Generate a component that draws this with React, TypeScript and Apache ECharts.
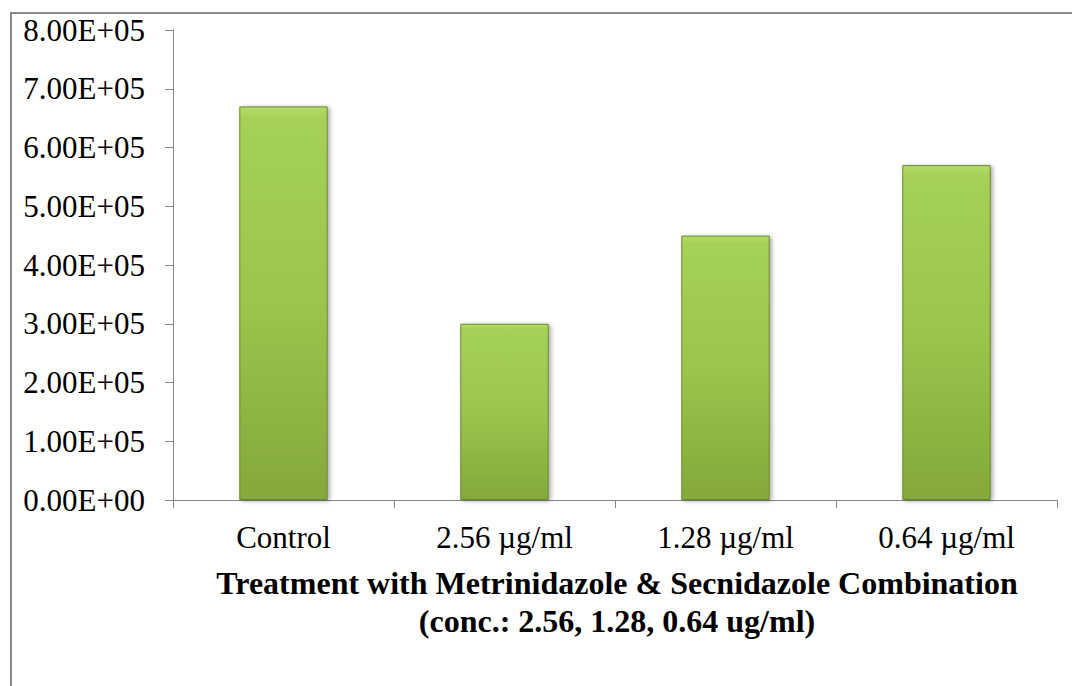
import React, { useEffect, useRef } from "react";
import * as echarts from "echarts";

const categories = ["Control", "2.56 µg/ml", "1.28 µg/ml", "0.64 µg/ml"];
const counts = [670000, 300000, 450000, 570000];
const yMin = 0;
const yMax = 800000;
const yStep = 100000;
const titleLines = [
  "Treatment with Metrinidazole & Secnidazole Combination",
  "(conc.: 2.56, 1.28, 0.64 ug/ml)",
];

const FONT = "'Liberation Serif', 'Times New Roman', serif";

function sci(v: number): string {
  const [m, e] = v.toExponential(2).split("e");
  const n = parseInt(e, 10);
  const sign = n < 0 ? "-" : "+";
  const digits = String(Math.abs(n)).padStart(2, "0");
  return `${m}E${sign}${digits}`;
}

export default function App() {
  const ref = useRef<HTMLDivElement>(null);

  useEffect(() => {
    if (!ref.current) return;
    const chart = echarts.init(ref.current, null, { renderer: "svg" });
    chart.setOption({
      animation: false,
      backgroundColor: "#ffffff",
      grid: { left: 173, top: 30, right: 15, bottom: 186, containLabel: false },
      xAxis: {
        type: "category",
        data: categories,
        axisLine: { lineStyle: { color: "#868686", width: 1 } },
        axisTick: { show: true, length: 8, lineStyle: { color: "#868686" } },
        axisLabel: {
          color: "#000",
          fontFamily: FONT,
          fontSize: 31,
          margin: 22,
        },
      },
      yAxis: {
        type: "value",
        min: yMin,
        max: yMax,
        interval: yStep,
        splitLine: { show: false },
        axisLine: { show: true, lineStyle: { color: "#868686", width: 1 } },
        axisTick: { show: true, length: 8, lineStyle: { color: "#868686" } },
        axisLabel: {
          color: "#000",
          fontFamily: FONT,
          fontSize: 31,
          margin: 28,
          formatter: (v: number) => sci(v),
        },
      },
      series: [
        {
          type: "bar",
          data: counts,
          barCategoryGap: "60%",
          itemStyle: {
            color: new echarts.graphic.LinearGradient(0, 0, 0, 1, [
              { offset: 0, color: "#b4dc6a" },
              { offset: 0.03, color: "#a6d157" },
              { offset: 0.5, color: "#9bc54c" },
              { offset: 1, color: "#84a83c" },
            ]),
            borderColor: "#6b8a2a",
            borderWidth: 1,
            shadowColor: "rgba(0,0,0,0.35)",
            shadowBlur: 4,
            shadowOffsetX: 2,
            shadowOffsetY: 1,
          },
        },
      ],
      graphic: [
        {
          type: "rect",
          shape: { x: 11, y: 13, width: 1070, height: 700 },
          style: { fill: "none", stroke: "#8a8a8a", lineWidth: 2 },
          silent: true,
        },
        {
          type: "text",
          x: 617,
          y: 583,
          style: {
            text: titleLines[0],
            font: `bold 32px ${FONT}`,
            fill: "#000",
            textAlign: "center",
            textVerticalAlign: "middle",
          },
        },
        {
          type: "text",
          x: 617,
          y: 621,
          style: {
            text: titleLines[1],
            font: `bold 32px ${FONT}`,
            fill: "#000",
            textAlign: "center",
            textVerticalAlign: "middle",
          },
        },
      ],
    });
    return () => chart.dispose();
  }, []);

  return (
    <div
      ref={ref}
      style={{ position: "fixed", left: 0, top: 0, width: 1072, height: 686 }}
    />
  );
}
